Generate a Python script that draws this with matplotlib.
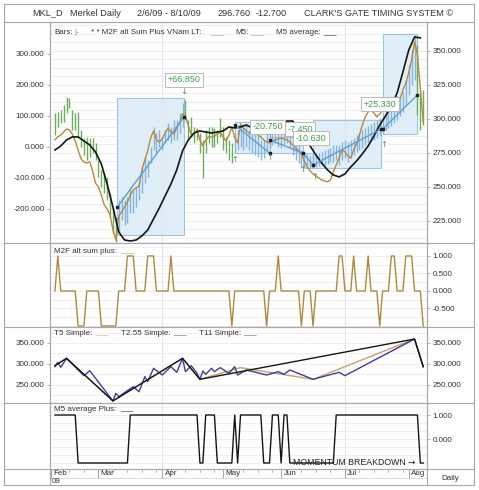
import numpy as np
import matplotlib
matplotlib.use('Agg')
import matplotlib.pyplot as plt
from matplotlib.patches import Rectangle
from matplotlib.lines import Line2D

plt.rcParams['font.family'] = ['Liberation Sans', 'DejaVu Sans']

# ---- data (x = trading day index, 0 = 2/6/09, 127 = 8/10/09) ----
bar_high = [304.4, 305.1, 306.6, 310.3, 316.2, 315.4, 306.6, 304.4, 305.1, 291.9,
            286.0, 286.8, 286.0, 286.0, 282.4, 269.9, 262.5, 260.3, 257.4, 245.6,
            235.3, 227.9, 240.4, 242.6, 240.4, 242.6, 250.0, 247.8, 250.0, 255.1,
            264.7, 272.1, 269.9, 279.4, 294.1, 289.7, 291.9, 286.8, 291.9, 297.1,
            294.1, 299.3, 299.3, 304.4, 311.8, 314.0, 299.3, 301.5, 294.1, 293.4,
            289.7, 284.6, 291.9, 294.1, 294.1, 293.4, 291.9, 300.7, 294.1, 286.8,
            284.6, 282.4, 289.7, 291.9, 295.6, 294.1, 295.6, 291.9, 291.9, 289.7,
            288.2, 284.6, 284.6, 289.7, 291.9, 294.1, 295.6, 293.4, 291.9, 294.1,
            295.6, 293.4, 288.2, 284.6, 280.9, 277.2, 276.0, 274.0, 273.0, 273.5,
            274.0, 275.0, 276.0, 277.0, 278.0, 279.0, 280.9, 280.9, 280.9, 283.1,
            284.6, 283.1, 284.6, 286.0, 288.2, 289.7, 291.9, 293.4, 294.9, 296.3,
            297.8, 299.3, 300.7, 302.9, 305.1, 306.6, 308.1, 310.3, 312.5, 315.4,
            319.9, 328.7, 339.7, 350.7, 361.8, 354.4, 321.3, 321.3]
bar_low = [288.2, 294.1, 297.1, 297.8, 304.4, 308.1, 291.9, 291.9, 286.0, 279.4,
           273.5, 269.9, 272.1, 275.0, 269.9, 257.4, 250.0, 245.6, 240.4, 227.9,
           216.2, 209.6, 216.2, 225.7, 222.1, 223.5, 230.9, 230.9, 235.3, 240.4,
           245.6, 252.9, 257.4, 267.6, 277.2, 275.0, 279.4, 277.2, 282.4, 284.6,
           282.4, 284.6, 284.6, 289.7, 294.1, 299.3, 284.6, 286.8, 282.4, 284.6,
           275.0, 256.6, 275.0, 282.4, 279.4, 279.4, 282.4, 286.8, 277.2, 275.0,
           269.9, 267.6, 275.0, 277.2, 279.4, 277.2, 279.4, 277.2, 275.0, 273.5,
           272.1, 269.9, 271.3, 277.2, 279.4, 280.9, 282.4, 279.4, 278.7, 280.9,
           282.4, 278.7, 273.5, 269.9, 267.6, 264.0, 264.5, 264.0, 264.0, 264.5,
           265.0, 265.5, 266.0, 266.5, 267.0, 268.0, 268.4, 269.9, 266.2, 269.9,
           271.3, 268.4, 271.3, 273.5, 275.7, 277.2, 278.7, 280.9, 282.4, 283.8,
           284.6, 286.0, 288.2, 289.7, 291.9, 293.4, 294.9, 297.1, 299.3, 302.2,
           305.1, 310.3, 317.6, 325.0, 328.7, 302.9, 291.9, 295.6]
m5 = [284.6, 286.8, 288.2, 290.4, 292.6, 291.9, 289.0, 283.8, 277.2, 270.6,
      268.4, 267.6, 268.4, 261.8, 252.9, 250.0, 244.1, 236.8, 233.8, 229.4,
      218.4, 211.0, 228.7, 231.6, 235.3, 239.0, 244.1, 247.8, 249.3, 250.7,
      262.5, 269.9, 276.5, 286.0, 291.2, 284.6, 283.1, 285.3, 289.7, 293.4,
      290.4, 289.0, 293.4, 297.1, 303.7, 302.2, 294.9, 288.2, 289.0, 291.9,
      284.6, 280.2, 284.6, 286.8, 286.8, 287.5, 289.0, 290.4, 286.8, 283.8,
      288.2, 294.1, 286.0, 282.4, 296.3, 293.4, 291.2, 289.7, 289.7, 290.4,
      288.2, 286.8, 284.6, 283.1, 282.4, 283.8, 284.6, 285.3, 286.0, 285.3,
      284.6, 283.1, 280.9, 278.7, 276.5, 274.3, 269.1, 264.7, 261.8, 259.6,
      258.1, 256.6, 255.1, 254.4, 253.7, 255.1, 261.0, 266.2, 271.3, 277.2,
      275.7, 272.8, 271.3, 277.2, 281.6, 288.2, 295.6, 301.5, 305.1, 306.6,
      304.4, 301.5, 303.7, 306.6, 305.9, 311.0, 314.0, 314.7, 316.2, 314.7,
      321.3, 326.5, 333.8, 343.4, 356.6, 347.1, 322.1, 297.8]
# M5 average, every second day
m5_avg = [277.2, 280.1, 284.6, 286.8, 286.8, 283.8, 280.9, 275.7, 266.9, 252.2,
          235.3, 216.9, 211.0, 210.3, 211.0, 214.0, 218.4, 226.5, 234.6, 243.4,
          252.2, 262.5, 276.5, 284.6, 289.7, 291.2, 290.4, 289.7, 290.4, 291.2,
          294.1, 293.4, 294.1, 295.6, 293.4, 291.2, 289.7, 289.7, 291.2, 294.1,
          298.5, 298.5, 292.6, 285.3, 280.1, 273.5, 267.6, 262.5, 258.8, 257.4,
          259.6, 264.7, 269.1, 274.3, 280.1, 287.5, 295.6, 302.2, 309.6, 319.1,
          334.6, 350.7, 360.3, 359.6]

# trend boxes (start, end, low, high) and LT regression segments
box_x0 = [21.5, 62, 74, 85.5, 89, 113]
box_x1 = [44.5, 74, 85.5, 89, 112.5, 125]
box_lo = [214.7, 275.0, 275.0, 264.0, 264.0, 289.0]
box_hi = [315.4, 297.8, 286.8, 275.0, 299.3, 362.5]
reg_x0 = [21.5, 62, 74, 85.5, 89, 113]
reg_x1 = [44.5, 74, 85.5, 89, 112.5, 125]
reg_y0 = [235.3, 295.6, 284.6, 275.0, 266.2, 292.6]
reg_y1 = [301.5, 275.0, 275.0, 266.2, 292.6, 317.6]

lbl_text = ['+66.850', '-20.750', '-7.450', '-10.630', '+25.330']
lbl_x = [44.5, 73.4, 84.5, 88.3, 112.1]
lbl_y = [328.7, 294.1, 292.6, 286.0, 311.0]
up_x = [62.1, 74.1, 85.5, 89.7, 113.4]
up_y = [269.9, 271.3, 262.5, 257.4, 280.9]
down_x = [44.5]
down_y = [319.9]

m2f = [0, 1, 0, 0, 0, 0, 0, 0, -1, -1, -1, 0, 0, 0, 0, 0, -1, -1, -1, -1,
       -1, -1, 0, 0, 0, 1, 1, 1, 0, 0, 0, 0, 1, 1, 1, 0, 0, 0, 0, 0,
       1, 0, 0, 0, 0, 0, 0, 0, 0, 0, 0, 0, 0, 0, 0, 0, 0, 0, 0, 0,
       0, -1, 0, 0, 0, 0, 0, 0, 0, 0, 0, 0, 0, -1, 0, 0, 0, 1, 0, 0,
       0, 0, 0, 0, 0, -1, 0, 0, 0, -1, 0, 0, 0, 0, 0, 0, 0, 0, 1, 1,
       0, 0, 0, 1, 0, 0, 0, 0, 1, 0, 0, 0, -1, 0, 0, 0, 1, 1, 0, 0,
       0, 1, 1, 1, 0, 0, 0, -1]

t11_x = [0, 4, 20, 44, 50, 124, 127]
t11_y = [296.0, 313.5, 212.0, 313.5, 263.5, 359.5, 293.6]
t5_x = [0, 4, 20, 44, 50, 64, 89, 124, 127]
t5_y = [296.0, 313.5, 212.0, 313.5, 263.5, 291.3, 263.5, 359.5, 293.6]
t255_x = [0, 1, 2, 4, 10, 12, 20, 21, 22, 27, 29, 31, 32, 34, 37, 40, 42, 44,
          45, 47, 49, 50, 51, 52, 54, 55, 57, 60, 62, 63, 66, 73, 77, 79, 81,
          89, 98, 100, 124, 127]
t255_y = [293.6, 304.0, 292.0, 313.5, 272.2, 284.1, 212.0, 230.1, 222.2, 246.0,
          234.0, 269.8, 257.9, 289.7, 273.8, 293.6, 280.2, 313.5, 281.7, 296.0,
          277.8, 263.5, 283.3, 275.4, 289.7, 281.7, 291.3, 277.8, 293.6, 273.8,
          285.7, 273.8, 281.7, 275.4, 285.7, 263.5, 280.2, 272.2, 359.5, 293.6]

m5_plus = [1] * 8 + [-1] * 18 + [1] * 24 + [-1] * 2 + [1] * 4 + [-1] * 6 + [1, -1] + \
          [1] * 8 + [-1] * 3 + [1] * 3 + [-1] + [1] * 2 + [-1] * 16 + [1] * 29 + [-1] * 2

month_names = ['Feb', 'Mar', 'Apr', 'May', 'Jun', 'Jul', 'Aug']
month_idx = [-1.4, 15, 37, 58, 78, 100, 122]

# ---- layout ----
W, H = 479, 490
fig = plt.figure(figsize=(W / 100, H / 100), dpi=100)
X0, X1 = 50, 427

def fy(y):
    return 1 - y / H

def panel(top, bot):
    return fig.add_axes([X0 / W, fy(bot), (X1 - X0) / W, (bot - top) / H])

grid_c = '#ececec'
edge_c = '#a8a8a8'
txt_c = '#333333'
green = '#3ca24a'
fs = 5.8
xlim = (-1.7, 128.3)
days = np.arange(len(bar_high))

def ticks(ax):
    ax.tick_params(axis='y', labelsize=fs, labelcolor=txt_c, color='#999999', length=2, width=0.5, pad=2)

def style(ax):
    ax.set_xlim(*xlim)
    ax.set_xticks([])
    for s in ax.spines.values():
        s.set_color(edge_c)
        s.set_linewidth(0.8)
    ticks(ax)
    for q in [37, 100]:
        ax.axvline(q, color='#dfe6ee', lw=0.8, zorder=0)

def left_twin(ax, lim, vals):
    tw = ax.twinx()
    tw.set_ylim(*lim)
    tw.yaxis.tick_left()
    tw.set_yticks(vals)
    tw.set_yticklabels(['%.3f' % v for v in vals])
    ticks(tw)
    for s in tw.spines.values():
        s.set_visible(False)
    ax.yaxis.tick_right()
    return tw

# main panel
ax1 = panel(22, 243)
style(ax1)
left_twin(ax1, (-310, 403), [-200, -100, 0, 100, 200, 300])
ax1.set_ylim(208.8, 371.3)
ax1.set_yticks([225, 250, 275, 300, 325, 350])
ax1.set_yticklabels(['%.3f' % v for v in [225, 250, 275, 300, 325, 350]])
for v in np.arange(212.5, 371, 6.25):
    ax1.axhline(v, color=grid_c, lw=0.6, zorder=0)

for a, b, lo, hi in zip(box_x0, box_x1, box_lo, box_hi):
    ax1.add_patch(Rectangle((a, lo), b - a, hi - lo, fc='#d9eaf7', ec='#8cb9df', lw=0.8, alpha=0.8, zorder=1))

in_box = np.zeros(len(days), bool)
for a, b in zip(box_x0, box_x1):
    in_box |= (days >= a) & (days <= b - 0.5)
bar_cols = np.where(in_box, '#86b4dc', '#6cae5c')
ax1.vlines(days, bar_low, bar_high, colors=bar_cols, lw=1.0, zorder=2)

ax1.plot(days, m5, color='#b8893a', lw=1.0, zorder=3)
ax1.plot(days[::2], m5_avg, color='#151515', lw=1.2, zorder=4)
for a, b, y0, y1 in zip(reg_x0, reg_x1, reg_y0, reg_y1):
    ax1.plot([a, b], [y0, y1], color='#5c9fd6', lw=1.0, zorder=5)
    ax1.plot([a, b], [y0, y1], 's', color='#202020', ms=1.8, zorder=6)

for t, x, y in zip(lbl_text, lbl_x, lbl_y):
    ax1.text(x, y, t, color=green, fontsize=6.5, ha='center', va='center', zorder=8,
             bbox=dict(boxstyle='square,pad=0.25', fc='white', ec='#b0b0b0', lw=0.6))
for x, y in zip(up_x, up_y):
    ax1.text(x, y, '↑', color=green, fontsize=6, ha='center', va='center', zorder=7,
             family='DejaVu Sans')
for x, y in zip(down_x, down_y):
    ax1.text(x, y, '↓', color=green, fontsize=6, ha='center', va='center', zorder=7,
             family='DejaVu Sans')

# M2F alt sum plus
ax2 = panel(243, 327)
style(ax2)
ax2.set_ylim(-1.029, 1.371)
ax2.yaxis.tick_right()
ax2.set_yticks([1, 0.5, 0, -0.5])
ax2.set_yticklabels(['1.000', '0.500', '0.000', '-0.500'])
for v in np.arange(-1, 1.3, 0.25):
    ax2.axhline(v, color=grid_c, lw=0.6, zorder=0)
ax2.plot(days, m2f, color='#b08a3c', lw=1.0)

# T5 / T2.55 / T11
ax3 = panel(327, 403)
style(ax3)
left_twin(ax3, (207.1, 388.1), [250, 300, 350])
ax3.set_ylim(207.1, 388.1)
ax3.set_yticks([250, 300, 350])
ax3.set_yticklabels(['250.000', '300.000', '350.000'])
for v in np.arange(225, 380, 25):
    ax3.axhline(v, color=grid_c, lw=0.6, zorder=0)
ax3.plot(t5_x, t5_y, color='#c9a25e', lw=1.0, zorder=3)
ax3.plot(t255_x, t255_y, color='#3c3ca6', lw=1.0, zorder=4)
ax3.plot(t11_x, t11_y, color='#151515', lw=1.0, zorder=5)

# M5 average Plus
ax4 = panel(403, 469)
style(ax4)
ax4.set_ylim(-1.25, 1.5)
ax4.yaxis.tick_right()
ax4.set_yticks([1, 0])
ax4.set_yticklabels(['1.000', '0.000'])
for v in np.arange(-1, 1.4, 1 / 3):
    ax4.axhline(v, color=grid_c, lw=0.6, zorder=0)
ax4.plot(days, m5_plus, color='#151515', lw=1.0)
ax4.text(82, -0.96, 'MOMENTUM BREAKDOWN', fontsize=6.3, color='#222222', va='center', ha='left')
ax4.text(121.5, -0.96, '→', fontsize=6.3, color='#222222', va='center', ha='left',
         family='DejaVu Sans')

# date row
axd = panel(469, 485)
axd.set_xlim(*xlim)
axd.set_ylim(0, 1)
axd.axis('off')
for i in range(0, 128, 5):
    axd.plot([i, i], [0.8, 1.0], color='#999999', lw=0.5)
for name, i in zip(month_names, month_idx):
    axd.plot([i, i], [0.45, 1.0], color='#999999', lw=0.6)
    axd.text(i + 0.8, 0.72, name, fontsize=fs, color=txt_c, va='center', ha='left')
axd.plot(xlim, [0.45, 0.45], color='#cccccc', lw=0.5)
axd.text(xlim[0] + 0.5, 0.2, '09', fontsize=fs, color=txt_c, va='center', ha='left')

# frame lines
def hline(y, x0=4, x1=474):
    fig.add_artist(Line2D([x0 / W, x1 / W], [fy(y), fy(y)], color=edge_c, lw=0.8))

def vline(x, y0, y1):
    fig.add_artist(Line2D([x / W, x / W], [fy(y0), fy(y1)], color=edge_c, lw=0.8))

for y in [4, 22, 243, 327, 403, 469, 485]:
    hline(y)
vline(4, 4, 485)
vline(474, 4, 485)
vline(X0, 22, 485)
vline(X1, 22, 485)

def ft(x, y, s, **kw):
    kw.setdefault('fontsize', fs)
    kw.setdefault('color', txt_c)
    fig.text(x / W, fy(y), s, va='center', ha='left', **kw)

# header
ft(32, 13, 'MKL_D', fontsize=6.6)
ft(70, 13, 'Merkel Daily', fontsize=6.6)
ft(137, 13, '2/6/09 - 8/10/09', fontsize=6.6)
ft(217, 13, '296.760', fontsize=6.6)
ft(256, 13, '-12.700', fontsize=6.6)
ft(304, 13, "CLARK'S GATE TIMING SYSTEM ©", fontsize=6.6)

# panel captions
ft(54, 33, 'Bars:')
ft(74, 33, '|-', color=green)
ft(91, 33, '* * M2F alt Sum Plus VNam LT:')
ft(210, 33, '___', color='#5c9fd6')
ft(235, 33, 'M5:')
ft(250, 33, '___', color='#b8893a')
ft(276, 33, 'M5 average:')
ft(323, 33, '___', color='#151515')
ft(54, 251, 'M2F alt sum plus:')
ft(121, 251, '___', color='#b08a3c')
ft(54, 333, 'T5 Simple:')
ft(95, 333, '___', color='#c9a25e')
ft(121, 333, 'T2.55 Simple:')
ft(173, 333, '___', color='#3c3ca6')
ft(199, 333, 'T11 Simple:')
ft(243, 333, '___', color='#3c3ca6')
ft(54, 409, 'M5 average Plus:')
ft(120, 409, '___', color='#151515')
ft(441, 478, 'Daily')

fig.savefig('out.png', dpi=100, facecolor='white')
